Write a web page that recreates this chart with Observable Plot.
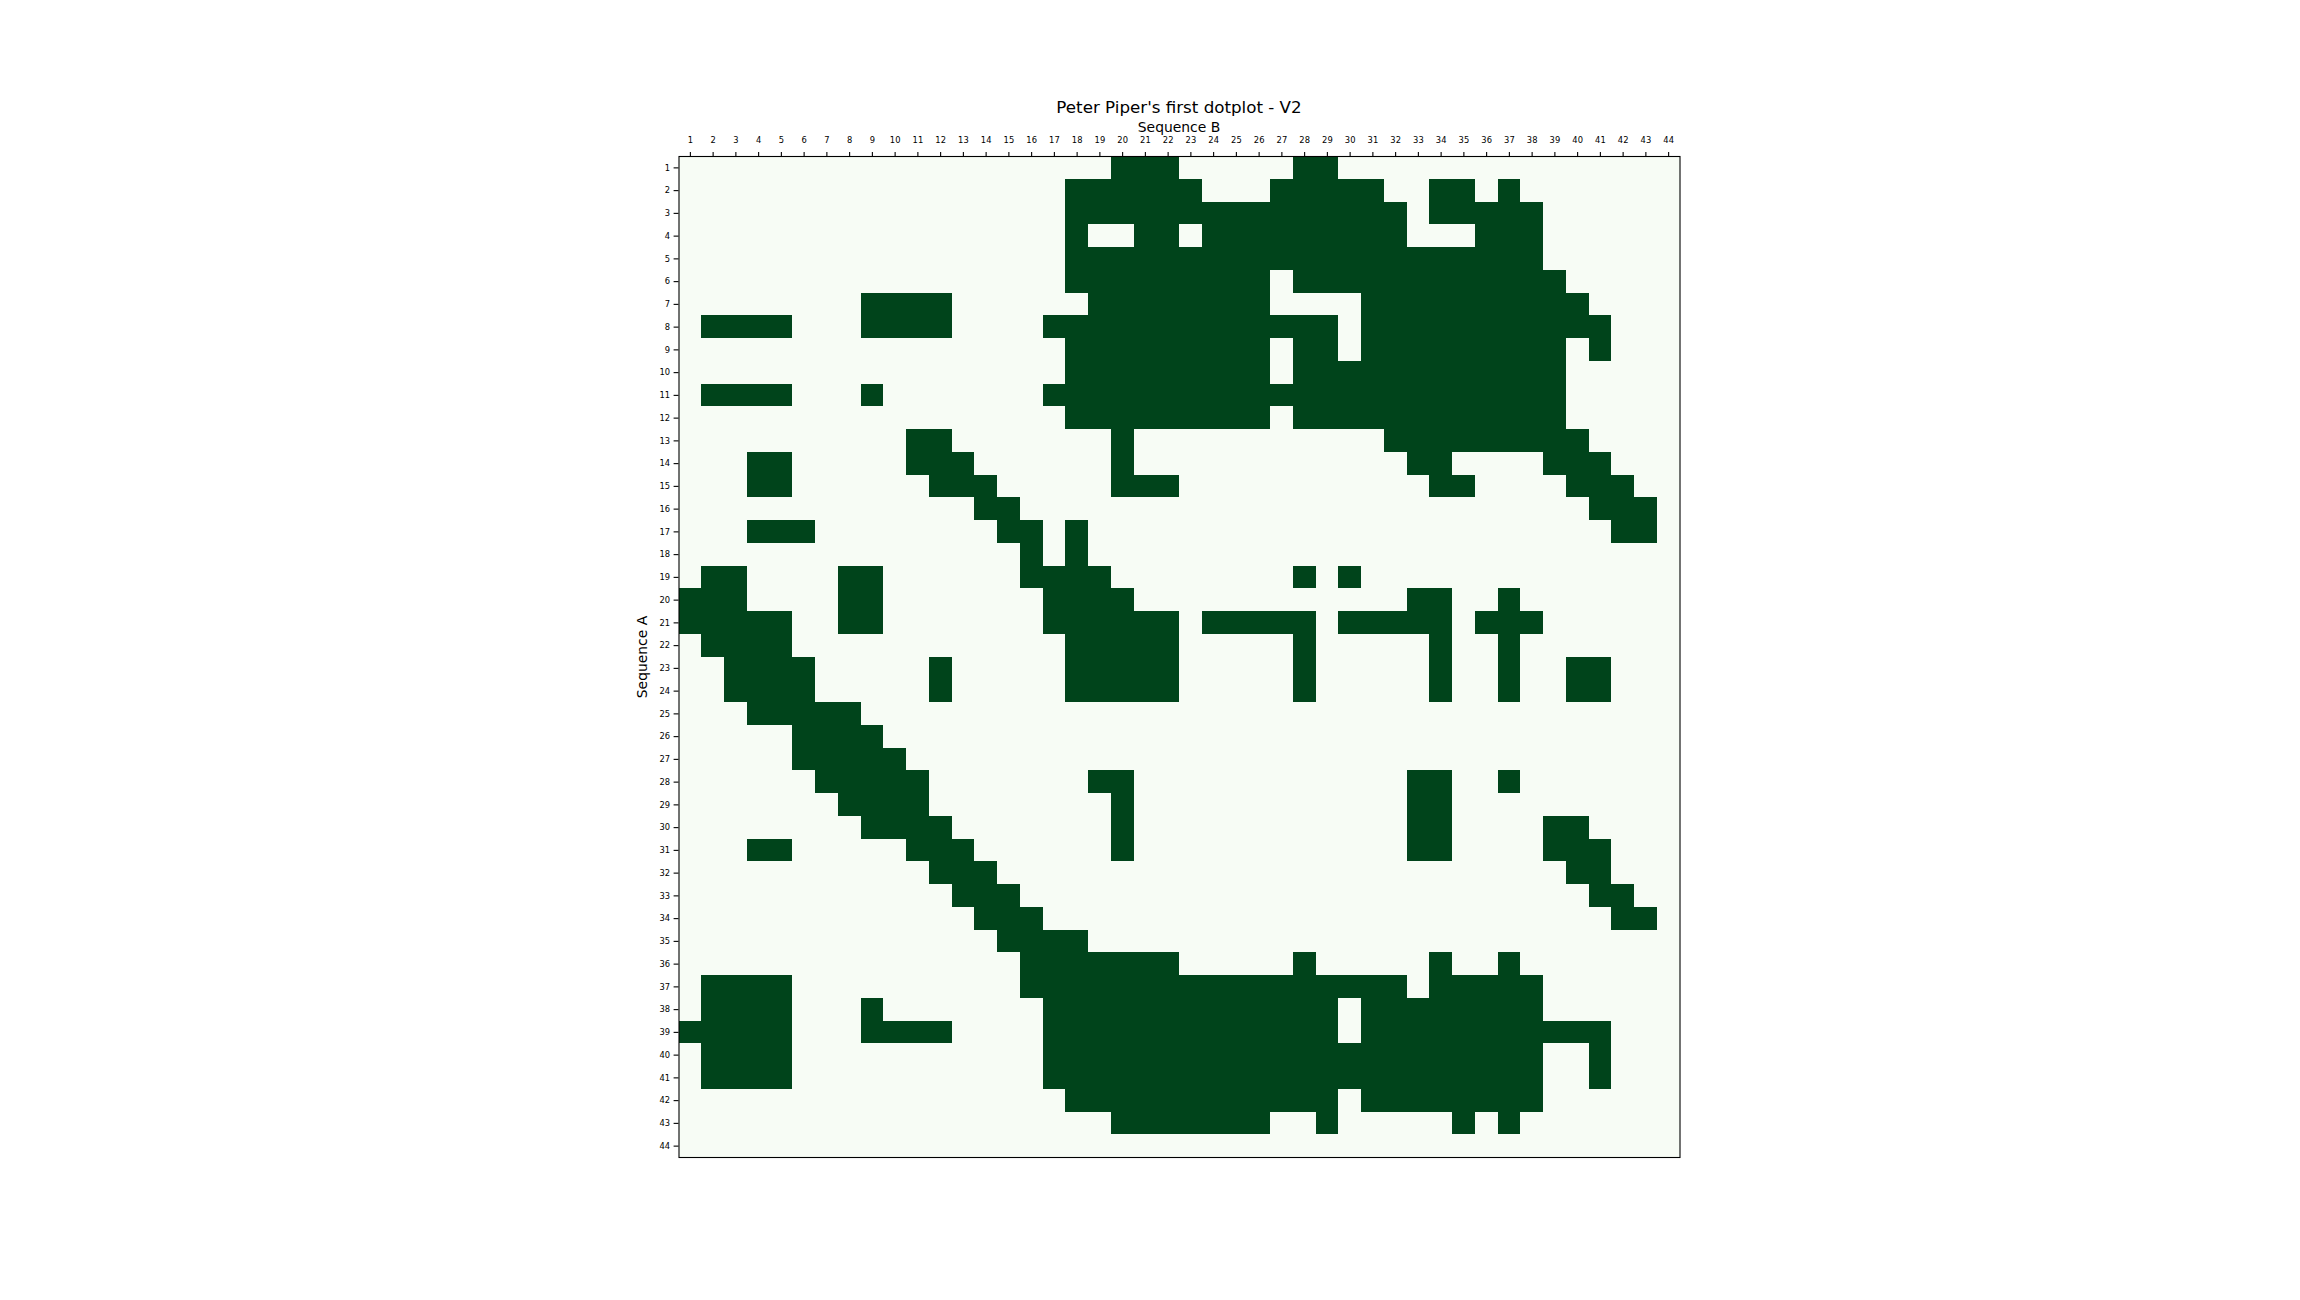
<!DOCTYPE html>
<html>
<head>
<meta charset="utf-8">
<script src="https://cdn.jsdelivr.net/npm/d3@7"></script>
<script src="https://cdn.jsdelivr.net/npm/@observablehq/plot@0.6"></script>
<style>
  body { margin: 0; background: #ffffff; font-family: "DejaVu Sans", sans-serif; }
  #wrap { position: relative; width: 2300px; height: 1300px; background: #ffffff; }
  .lbl { position: absolute; white-space: nowrap; color: #000; line-height: 1; font-family: "DejaVu Sans", sans-serif; }
</style>
</head>
<body>
<div id="wrap"></div>
<script>
// ---- text ----
const title = "Peter Piper's first dotplot - V2";
const xLabel = "Sequence B";
const yLabel = "Sequence A";

// ---- tick labels (positions along each sequence) ----
const positionsA = [1,2,3,4,5,6,7,8,9,10,11,12,13,14,15,16,17,18,19,20,21,22,23,24,25,26,27,28,29,30,31,32,33,34,35,36,37,38,39,40,41,42,43,44];
const positionsB = [1,2,3,4,5,6,7,8,9,10,11,12,13,14,15,16,17,18,19,20,21,22,23,24,25,26,27,28,29,30,31,32,33,34,35,36,37,38,39,40,41,42,43,44];

// ---- matches: for each row of Sequence A, the runs [from, to] of matching Sequence B positions ----
const matchRuns = [
  [[20,22],[28,29]],                                   // 1
  [[18,23],[27,31],[34,35],[37,37]],                   // 2
  [[18,32],[34,38]],                                   // 3
  [[18,18],[21,22],[24,32],[36,38]],                   // 4
  [[18,38]],                                           // 5
  [[18,26],[28,39]],                                   // 6
  [[9,12],[19,26],[31,40]],                            // 7
  [[2,5],[9,12],[17,29],[31,41]],                      // 8
  [[18,26],[28,29],[31,39],[41,41]],                   // 9
  [[18,26],[28,39]],                                   // 10
  [[2,5],[9,9],[17,39]],                               // 11
  [[18,26],[28,39]],                                   // 12
  [[11,12],[20,20],[32,40]],                           // 13
  [[4,5],[11,13],[20,20],[33,34],[39,41]],             // 14
  [[4,5],[12,14],[20,22],[34,35],[40,42]],             // 15
  [[14,15],[41,43]],                                   // 16
  [[4,6],[15,16],[18,18],[42,43]],                     // 17
  [[16,16],[18,18]],                                   // 18
  [[2,3],[8,9],[16,19],[28,28],[30,30]],               // 19
  [[1,3],[8,9],[17,20],[33,34],[37,37]],               // 20
  [[1,5],[8,9],[17,22],[24,28],[30,34],[36,38]],       // 21
  [[2,5],[18,22],[28,28],[34,34],[37,37]],             // 22
  [[3,6],[12,12],[18,22],[28,28],[34,34],[37,37],[40,41]], // 23
  [[3,6],[12,12],[18,22],[28,28],[34,34],[37,37],[40,41]], // 24
  [[4,8]],                                             // 25
  [[6,9]],                                             // 26
  [[6,10]],                                            // 27
  [[7,11],[19,20],[33,34],[37,37]],                    // 28
  [[8,11],[20,20],[33,34]],                            // 29
  [[9,12],[20,20],[33,34],[39,40]],                    // 30
  [[4,5],[11,13],[20,20],[33,34],[39,41]],             // 31
  [[12,14],[40,41]],                                   // 32
  [[13,15],[41,42]],                                   // 33
  [[14,16],[42,43]],                                   // 34
  [[15,18]],                                           // 35
  [[16,22],[28,28],[34,34],[37,37]],                   // 36
  [[2,5],[16,32],[34,38]],                             // 37
  [[2,5],[9,9],[17,29],[31,38]],                       // 38
  [[1,5],[9,12],[17,29],[31,41]],                      // 39
  [[2,5],[17,38],[41,41]],                             // 40
  [[2,5],[17,38],[41,41]],                             // 41
  [[18,29],[31,38]],                                   // 42
  [[20,26],[29,29],[35,35],[37,37]],                   // 43
  []                                                   // 44
];

// ---- colours ----
const noMatchColor = "#f7fcf5";
const matchColor = "#00441b";

// ---- build the cell table ----
const cells = [];
positionsA.forEach((a, i) => {
  const runs = matchRuns[i];
  positionsB.forEach(b => {
    const hit = runs.some(([lo, hi]) => b >= lo && b <= hi) ? 1 : 0;
    cells.push({a, b, v: hit});
  });
});

const W = 2300, H = 1300;
const mL = 678.5, mR = 620.5, mT = 156, mB = 143;

const chart = Plot.plot({
  width: W,
  height: H,
  marginLeft: mL,
  marginRight: mR,
  marginTop: mT,
  marginBottom: mB,
  style: { fontFamily: "DejaVu Sans, sans-serif", background: "transparent", color: "#000" },
  x: { type: "band", domain: positionsB, padding: 0, axis: null },
  y: { type: "band", domain: positionsA, padding: 0, axis: null },
  color: { type: "ordinal", domain: [0, 1], range: [noMatchColor, matchColor] },
  marks: [
    Plot.cell(cells, { x: "b", y: "a", fill: "v", inset: 0, shapeRendering: "crispEdges" }),
    Plot.frame({ stroke: "#000", strokeWidth: 1.1 }),
    Plot.axisX({ anchor: "top", tickSize: 4.9, tickPadding: 8.5, fontSize: 8.33, label: null, strokeWidth: 1.1 }),
    Plot.axisY({ anchor: "left", tickSize: 4.9, tickPadding: 4, fontSize: 8.33, label: null, strokeWidth: 1.1 })
  ]
});

const wrap = document.getElementById("wrap");
chart.style.position = "absolute";
chart.style.left = "0px";
chart.style.top = "0px";
wrap.appendChild(chart);

const cx = mL + (W - mL - mR) / 2;
const cy = mT + (H - mT - mB) / 2;

function addLabel(text, size, left, top, transform) {
  const d = document.createElement("div");
  d.className = "lbl";
  d.textContent = text;
  d.style.fontSize = size + "px";
  d.style.left = left + "px";
  d.style.top = top + "px";
  d.style.transform = transform;
  wrap.appendChild(d);
}
addLabel(title, 16.7, cx, 98.6, "translateX(-50%)");
addLabel(xLabel, 13.9, cx, 120.5, "translateX(-50%)");
addLabel(yLabel, 13.9, 643, cy, "translate(-50%,-50%) rotate(-90deg)");
</script>
</body>
</html>
